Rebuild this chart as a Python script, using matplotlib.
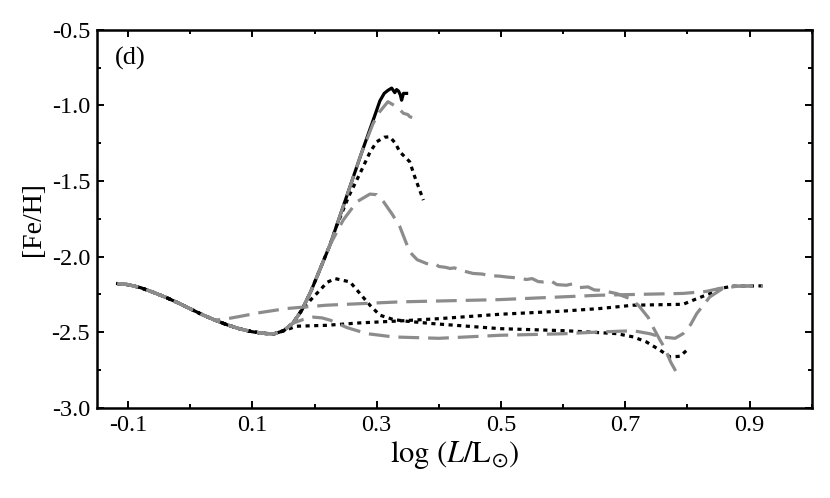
import numpy as np
from matplotlib import pyplot as plt
from matplotlib.ticker import MultipleLocator

plt.rcParams['font.family'] = ['Liberation Serif', 'DejaVu Serif']
plt.rcParams['mathtext.fontset'] = 'stix'
plt.rcParams['axes.unicode_minus'] = False

# shared start of every track (flat start, slope down)
start_x = [-0.117, -0.10, -0.08, -0.06, -0.04, -0.02, 0.0, 0.02, 0.04]
start_y = [-2.178, -2.185, -2.205, -2.235, -2.268, -2.305, -2.345, -2.385, -2.42]
# the valley at log L ~ 0.13
valley_x = [0.06, 0.08, 0.10, 0.12, 0.135, 0.15]
valley_y = [-2.452, -2.478, -2.497, -2.508, -2.51, -2.49]
# steep rise
rise_x = [0.165, 0.18, 0.195, 0.21, 0.225]
rise_y = [-2.44, -2.35, -2.22, -2.07, -1.92]

# black solid, highest peak
a_x = [0.25, 0.275, 0.294, 0.305, 0.312, 0.318, 0.324, 0.329, 0.332, 0.335, 0.338, 0.34, 0.343, 0.348]
a_y = [-1.62, -1.32, -1.10, -0.97, -0.92, -0.90, -0.885, -0.915, -0.895, -0.905, -0.93, -0.965, -0.92, -0.92]

# grey dashed, just below the black one
b_x = [0.25, 0.275, 0.294, 0.305, 0.318, 0.327, 0.335, 0.343, 0.35, 0.353, 0.357]
b_y = [-1.62, -1.32, -1.12, -1.04, -0.975, -0.997, -1.019, -1.052, -1.06, -1.074, -1.08]

# black dotted, peak ~ -1.2
c_x = [0.235, 0.255, 0.273, 0.289, 0.30, 0.312, 0.321, 0.33, 0.337, 0.353, 0.361, 0.375]
c_y = [-1.80, -1.60, -1.45, -1.31, -1.24, -1.21, -1.207, -1.25, -1.306, -1.372, -1.47, -1.626]

# grey dashed, peak ~ -1.6 then long noisy tail and dip
d_x = [0.246, 0.268, 0.289, 0.30, 0.311, 0.325, 0.337, 0.353, 0.365, 0.38,
       0.39, 0.395, 0.40, 0.41, 0.418, 0.425, 0.435, 0.455, 0.47, 0.48,
       0.498, 0.51, 0.525, 0.541, 0.55, 0.56, 0.568, 0.58, 0.59, 0.605,
       0.615, 0.625, 0.64, 0.65, 0.659, 0.672, 0.686, 0.707, 0.721, 0.737,
       0.745, 0.756, 0.764, 0.773, 0.781]
d_y = [-1.758, -1.637, -1.586, -1.59, -1.637, -1.72, -1.80, -1.968, -2.02, -2.045,
       -2.055, -2.05, -2.065, -2.07, -2.078, -2.074, -2.09, -2.111, -2.115, -2.125,
       -2.129, -2.135, -2.14, -2.151, -2.145, -2.165, -2.167, -2.16, -2.185, -2.189,
       -2.18, -2.205, -2.20, -2.22, -2.222, -2.232, -2.244, -2.277, -2.321, -2.403,
       -2.469, -2.553, -2.608, -2.697, -2.756]

# black dotted, low bump at 0.24 then dip at 0.78
f_x = [0.165, 0.18, 0.195, 0.209, 0.22, 0.233, 0.257, 0.273, 0.289, 0.305,
       0.327, 0.348, 0.391, 0.498, 0.605, 0.686, 0.713, 0.734, 0.756, 0.772,
       0.788, 0.80]
f_y = [-2.44, -2.35, -2.28, -2.22, -2.17, -2.145, -2.167, -2.244, -2.321, -2.387,
       -2.416, -2.427, -2.443, -2.476, -2.49, -2.509, -2.531, -2.564, -2.619, -2.663,
       -2.659, -2.615]

# black dotted, almost flat, joins the end
e_x = [0.171, 0.219, 0.273, 0.337, 0.40, 0.498, 0.60, 0.659, 0.713, 0.793,
       0.809, 0.836, 0.852, 0.874, 0.921]
e_y = [-2.46, -2.454, -2.438, -2.425, -2.41, -2.381, -2.36, -2.343, -2.321, -2.315,
       -2.288, -2.244, -2.21, -2.195, -2.193]

# grey dashed, leaves early and stays around -2.3
g_x = [0.06, 0.08, 0.112, 0.155, 0.219, 0.337, 0.498, 0.659, 0.793, 0.83,
       0.852, 0.874, 0.921]
g_y = [-2.41, -2.395, -2.37, -2.343, -2.321, -2.299, -2.284, -2.255, -2.243, -2.23,
       -2.21, -2.195, -2.193]

# grey dashed, small bump at 0.2 then ~ -2.52, dip at 0.78
h_x = [0.165, 0.182, 0.198, 0.212, 0.225, 0.252, 0.284, 0.327, 0.40, 0.498,
       0.60, 0.659, 0.713, 0.74, 0.756, 0.78, 0.793, 0.805, 0.815, 0.836,
       0.857, 0.88, 0.921]
h_y = [-2.44, -2.415, -2.40, -2.405, -2.42, -2.469, -2.509, -2.531, -2.54, -2.52,
       -2.51, -2.498, -2.49, -2.51, -2.53, -2.54, -2.509, -2.45, -2.376, -2.266,
       -2.21, -2.195, -2.193]

grey = '#8c8c8c'
dash = (0, (6.5, 2.8))
dots = (0, (1.3, 1.4))
LW = 2.3

def track(*parts):
    xs, ys = [], []
    for px, py in parts:
        xs += list(px)
        ys += list(py)
    return np.array(xs), np.array(ys)

fig = plt.figure(figsize=(8.3, 4.98), dpi=100)
ax = fig.add_axes([0.117, 0.181, 0.861, 0.759])

S = (start_x, start_y)
V = (valley_x, valley_y)
R = (rise_x, rise_y)

x, y = track(S, V, R, (a_x, a_y))
ax.plot(x, y, color='black', lw=LW, zorder=1)

# black dotted tracks
x, y = track(S, V, R, (c_x, c_y))
ax.plot(x, y, color='black', lw=LW, ls=dots, zorder=2)
x, y = track(S, V, (f_x, f_y))
ax.plot(x, y, color='black', lw=LW, ls=dots, zorder=2)
x, y = track(S, V, (e_x, e_y))
ax.plot(x, y, color='black', lw=LW, ls=dots, zorder=2)

# grey dashed tracks
x, y = track(S, V, R, (b_x, b_y))
ax.plot(x, y, color=grey, lw=LW, ls=dash, zorder=3)
x, y = track(S, V, R, (d_x, d_y))
ax.plot(x, y, color=grey, lw=LW, ls=dash, zorder=3)
x, y = track(S, V, (h_x, h_y))
ax.plot(x, y, color=grey, lw=LW, ls=dash, zorder=3)
x, y = track(S, (g_x, g_y))
ax.plot(x, y, color=grey, lw=LW, ls=dash, zorder=3)

ax.set_xlim(-0.15, 1.0)
ax.set_ylim(-3.0, -0.5)
ax.set_xticks([-0.1, 0.1, 0.3, 0.5, 0.7, 0.9])
ax.xaxis.set_minor_locator(MultipleLocator(0.1))
ax.yaxis.set_major_locator(MultipleLocator(0.5))
ax.yaxis.set_minor_locator(MultipleLocator(0.25))
ax.yaxis.set_major_formatter(plt.FormatStrFormatter('%.1f'))
ax.tick_params(which='both', direction='in', top=True, right=True, labelsize=17.5, width=1.4)
ax.tick_params(which='major', length=5, pad=5)
ax.tick_params(which='minor', length=3)
for s in ax.spines.values():
    s.set_linewidth(1.8)

ax.set_xlabel(r'$\log\,(L/\mathrm{L}_{\odot})$', fontsize=22, labelpad=2)
ax.set_ylabel('[Fe/H]', fontsize=20, labelpad=4)
ax.text(0.025, 0.955, '(d)', transform=ax.transAxes, fontsize=19, va='top')

fig.savefig('out.png', dpi=100)
